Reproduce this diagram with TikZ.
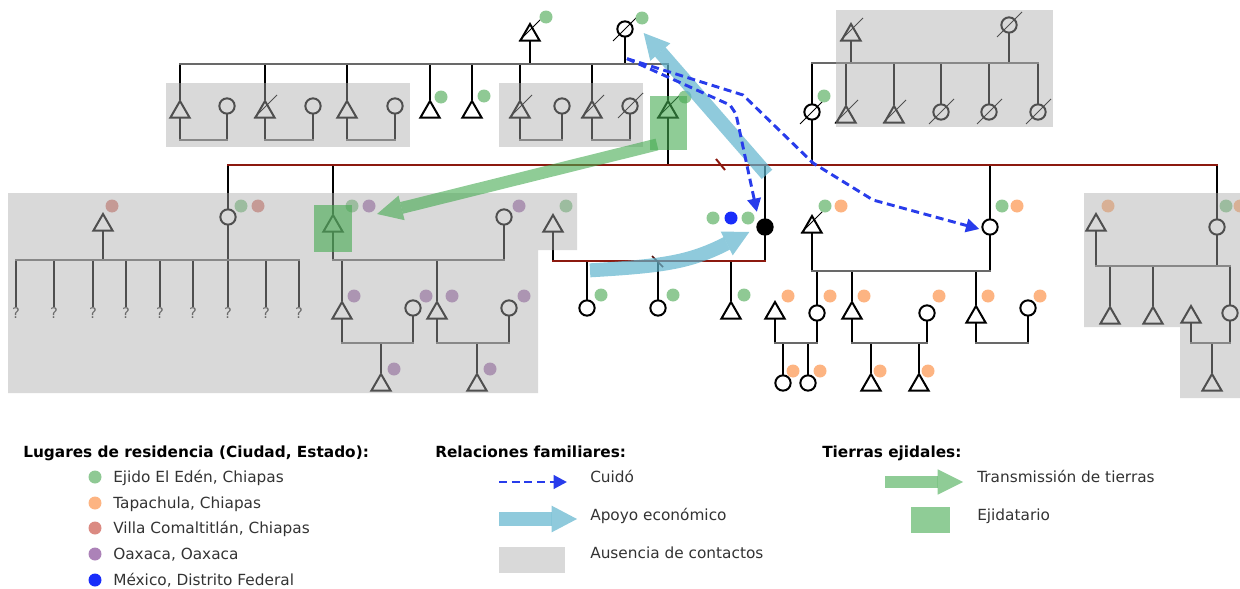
\documentclass[tikz,border=0pt]{standalone}
\usepackage{fontspec}
\setmainfont{DejaVu Sans}
\usetikzlibrary{shapes.geometric,arrows.meta,positioning,calc}

\definecolor{verde}{RGB}{143,201,148}
\definecolor{naranja}{RGB}{253,180,130}
\definecolor{rojo}{RGB}{219,138,130}
\definecolor{morado}{RGB}{172,130,184}
\definecolor{azul}{RGB}{25,45,250}
\definecolor{celeste}{RGB}{95,180,205}
\definecolor{pasto}{RGB}{68,170,80}
\definecolor{granate}{RGB}{140,25,15}
\definecolor{sombra}{RGB}{173,173,173}
\definecolor{grisbarra}{RGB}{105,105,105}
\definecolor{punteado}{RGB}{40,60,235}

\tikzset{
  persona/.style={draw, line width=1.5pt, inner sep=0pt},
  hombre/.style={persona, regular polygon, regular polygon sides=3, minimum size=16.5pt},
  mujer/.style={persona, circle, minimum size=11.5pt},
  rama/.style={line width=1.5pt, line cap=rect},
  union/.style={rama, draw=grisbarra},
  roja/.style={rama, draw=granate},
  muerto/.style={line width=0.7pt},
  sinlazo/.style={anchor=north, text=black!80, inner sep=1pt, font=\fontsize{11pt}{12pt}\selectfont},
  cuido/.style={draw=punteado, line width=2.2pt, dash pattern=on 6pt off 3.5pt, -{Triangle[length=10pt,width=10pt]}},
  apoyo/.style={draw=celeste, opacity=0.7, line width=10.5pt, -{Triangle[length=19pt,width=20pt,line width=0pt]}},
  tierra/.style={draw=pasto, opacity=0.6, line width=9pt, -{Triangle[length=19pt,width=19pt,line width=0pt]}},
  ausencia/.style={fill=sombra, fill opacity=0.46},
  ejido/.style={fill=pasto, fill opacity=0.6},
  titulo/.style={anchor=base west, inner sep=0pt, font=\fontsize{11.5pt}{13pt}\selectfont\bfseries},
  leyenda/.style={anchor=base west, inner sep=0pt, text=black!80, font=\fontsize{11.5pt}{13pt}\selectfont},
}

\begin{document}
\begin{tikzpicture}[x=0.75pt, y=-0.75pt]
  \useasboundingbox (0,0) rectangle (1240,589);

  % abuelos paternos
  \node[hombre] (abueloP) at (530,35) {};
  \node[mujer]  (abuelaP) at (625,29) {};
  % hijos de los abuelos paternos
  \node[hombre] (t1) at (180,112) {};
  \node[mujer]  (e1) at (227,106) {};
  \node[hombre] (t2) at (265,112) {};
  \node[mujer]  (e2) at (313,106) {};
  \node[hombre] (t3) at (347,112) {};
  \node[mujer]  (e3) at (395,106) {};
  \node[hombre] (t4) at (430,112) {};
  \node[hombre] (t5) at (472,112) {};
  \node[hombre] (t6) at (520,112) {};
  \node[mujer]  (e6) at (562,106) {};
  \node[hombre] (t7) at (592,112) {};
  \node[mujer]  (e7) at (630,106) {};
  \node[hombre] (padre) at (668,112) {};

  % abuelos maternos y sus hijos
  \node[hombre] (abueloM) at (851,35) {};
  \node[mujer]  (abuelaM) at (1009,25) {};
  \node[mujer]  (madre) at (812,112) {};
  \node[hombre] (tio1) at (846,117) {};
  \node[hombre] (tio2) at (894,117) {};
  \node[mujer]  (tia3) at (941,112) {};
  \node[mujer]  (tia4) at (989,112) {};
  \node[mujer]  (tia5) at (1038,112) {};

  % hermanos de ego y sus parejas
  \node[mujer]  (hermana1) at (228,217) {};
  \node[hombre] (cunado1) at (103,225) {};
  \node[hombre] (hermano2) at (333,226) {};
  \node[mujer]  (cunada2) at (504,217) {};
  \node[mujer, fill=black] (ego) at (765,227) {};
  \node[hombre] (esposo) at (553,226) {};
  \node[mujer]  (hermana4) at (990,227) {};
  \node[hombre] (cunado4) at (812,227) {};
  \node[mujer]  (hermana5) at (1217,227) {};
  \node[hombre] (cunado5) at (1096,225) {};

  % sobrinos e hijos
  \foreach \x [count=\i] in {16,54,93,126,160,193,228,266,299}
    \node[sinlazo] (q\i) at (\x,306) {?};
  \node[hombre] (sob1) at (342,313) {};
  \node[mujer]  (sob1e) at (413,308) {};
  \node[hombre] (sob2) at (437,313) {};
  \node[mujer]  (sob2e) at (509,308) {};
  \node[mujer]  (hija1) at (587,308) {};
  \node[mujer]  (hija2) at (658,308) {};
  \node[hombre] (hijo3) at (731,313) {};
  \node[hombre] (sob4ae) at (775,313) {};
  \node[mujer]  (sob4a) at (817,313) {};
  \node[hombre] (sob4b) at (852,313) {};
  \node[mujer]  (sob4be) at (927,313) {};
  \node[hombre] (sob4c) at (976,317) {};
  \node[mujer]  (sob4ce) at (1028,308) {};
  \node[hombre] (sob5a) at (1110,318) {};
  \node[hombre] (sob5b) at (1153,318) {};
  \node[hombre] (sob5ce) at (1191,317) {};
  \node[mujer]  (sob5c) at (1230,313) {};

  % nietos
  \node[hombre] (nieto1) at (381,385) {};
  \node[hombre] (nieto2) at (477,385) {};
  \node[mujer]  (nieta4a1) at (783,383) {};
  \node[mujer]  (nieta4a2) at (808,383) {};
  \node[hombre] (nieto4b1) at (871,385) {};
  \node[hombre] (nieto4b2) at (919,385) {};
  \node[hombre] (nieto5) at (1212,385) {};

  % lineas hijo -> barra
  \foreach \n/\y in {t1/64,t2/64,t3/64,t4/64,t5/64,t6/64,t7/64,padre/64,
      madre/63,tio1/63,tio2/63,tia3/63,tia4/63,tia5/63,
      hermana1/165,hermano2/165,ego/165,hermana4/165,hermana5/165,
      sob1/260,sob2/260,hija1/261,hija2/261,hijo3/261,
      sob4a/271,sob4b/271,sob4c/271,sob5a/266,sob5b/266,sob5c/266,
      nieto1/343,nieto2/343,nieta4a1/343,nieta4a2/343,nieto4b1/343,nieto4b2/343,nieto5/343}
    \draw[rama] (\n.north) -- (\n.north |- 0,\y);
  \foreach \i in {1,...,9}
    \draw[rama] (q\i.north) -- (q\i.north |- 0,260);

  % lineas padre -> barra
  \foreach \n/\y in {abueloP/64,abuelaP/64,abueloM/63,abuelaM/63,padre/165,madre/165,
      t1/140,e1/140,t2/140,e2/140,t3/140,e3/140,t6/140,e6/140,t7/140,e7/140,
      cunado1/260,hermana1/260,hermano2/260,cunada2/260,esposo/261,ego/261,
      cunado4/271,hermana4/271,cunado5/266,hermana5/266,
      sob1/343,sob1e/343,sob2/343,sob2e/343,sob4ae/343,sob4a/343,sob4b/343,sob4be/343,
      sob4c/343,sob4ce/343,sob5ce/343,sob5c/343}
    \draw[rama] (\n.south) -- (\n.south |- 0,\y);

  % barras
  \draw[union] (t1.north |- 0,64) -- (padre.north |- 0,64);
  \draw[union] (madre.north |- 0,63) -- (tia5.north |- 0,63);
  \draw[roja] (hermana1.north |- 0,165) -- (hermana5.north |- 0,165);
  \draw[union] (q1.north |- 0,260) -- (q9.north |- 0,260);
  \draw[union] (hermano2.south |- 0,260) -- (cunada2.south |- 0,260);
  \draw[roja] (esposo.south |- 0,261) -- (ego.south |- 0,261);
  \draw[union] (cunado4.south |- 0,271) -- (hermana4.south |- 0,271);
  \draw[union] (cunado5.south |- 0,266) -- (sob5c.north |- 0,266);
  \foreach \a/\b/\y in {t1/e1/140,t2/e2/140,t3/e3/140,t6/e6/140,t7/e7/140,
      sob1/sob1e/343,sob2/sob2e/343,sob4ae/sob4a/343,sob4b/sob4be/343,
      sob4c/sob4ce/343,sob5ce/sob5c/343}
    \draw[union] (\a.south |- 0,\y) -- (\b.south |- 0,\y);

  % separaciones
  \draw[granate, line width=1.5pt] (716,159) -- (725,170);
  \draw[granate!60!black, line width=1.3pt] (652,256) -- (663,267);

  % fallecidos
  \foreach \n in {abueloP,t2,t6,t7,padre,abueloM,tio1,tio2,cunado4}
    \draw[muerto] ($(\n)+(-11,6)$) -- ($(\n)+(12,-17)$);
  \foreach \n in {abuelaP,e7,abuelaM,madre,tia3,tia4,tia5}
    \draw[muerto] ($(\n)+(-12,12)$) -- ($(\n)+(13,-13)$);

  % lugares de residencia
  \foreach \c/\x/\y in {verde/546/17,verde/642/18,verde/441/97,verde/484/96,verde/685/97,
      verde/824/96,verde/241/206,verde/352/206,verde/566/206,verde/713/218,verde/748/218,
      verde/601/295,verde/673/295,verde/744/295,verde/825/206,verde/1002/206,verde/1226/206,
      rojo/258/206,rojo/112/206,
      morado/369/206,morado/519/206,morado/354/296,morado/426/296,morado/452/296,
      morado/524/296,morado/394/369,morado/490/369,
      azul/731/218,
      naranja/841/206,naranja/1017/206,naranja/1240/206,naranja/1108/206,naranja/788/296,
      naranja/830/296,naranja/864/296,naranja/939/296,naranja/988/296,naranja/1040/296,
      naranja/793/371,naranja/820/371,naranja/880/371,naranja/928/371}
    \fill[\c] (\x,\y) circle [radius=6.5];

  % ausencia de contactos
  \fill[ausencia] (166,83) rectangle (410,147);
  \fill[ausencia] (499,83) rectangle (643,147);
  \fill[ausencia] (836,10) rectangle (1053,127);
  \fill[ausencia] (8,193) -- (577,193) -- (577,250) -- (538,250) -- (538,393) -- (8,393) -- cycle;
  \fill[ausencia] (1084,193) -- (1240,193) -- (1240,398) -- (1180,398) -- (1180,327) -- (1084,327) -- cycle;

  % ejidatarios
  \fill[ejido] (650,96) rectangle (687,150);
  \fill[ejido] (314,205) rectangle (352,252);

  % relaciones
  \draw[tierra] ($(padre.south)+(-11,26)$) -- ($(hermano2)+(44,-12)$);
  \draw[apoyo] ($(ego.north)+(2,-44)$) -- ($(abuelaP.east)+(10,4)$);
  \draw[apoyo] ($(hija1.north)+(3,-29)$) .. controls (665,266) and (690,262) .. ($(ego.west)+(-7,5)$);
  \draw[cuido] ($(abuelaP.south)+(2,21)$) -- (730,105) -- (736,114) -- ($(ego.north west)+(-2,-9)$);
  \draw[cuido] ($(abuelaP.south)+(2,21)$) -- (743,95) -- (813,163) -- (873,200) -- ($(hermana4.west)+(-2,2)$);

  % leyenda: lugares
  \node[titulo] (tLugares) at (23,457) {Lugares de residencia (Ciudad, Estado):};
  \fill[verde] (95,477) circle [radius=6.5];
  \fill[naranja] (95,503) circle [radius=6.5];
  \fill[rojo] (95,528) circle [radius=6.5];
  \fill[morado] (95,554) circle [radius=6.5];
  \fill[azul] (95,580) circle [radius=6.5];
  \node[leyenda] (lVerde) at (113,482) {Ejido El Edén, Chiapas};
  \node[leyenda] (lNaranja) at (113,508) {Tapachula, Chiapas};
  \node[leyenda] (lRojo) at (113,533) {Villa Comaltitlán, Chiapas};
  \node[leyenda] (lMorado) at (113,559) {Oaxaca, Oaxaca};
  \node[leyenda] (lAzul) at (113,585) {México, Distrito Federal};

  % leyenda: relaciones
  \node[titulo] (tRelaciones) at (435,457) {Relaciones familiares:};
  \coordinate (c1) at (499,482);
  \coordinate (c2) at (567,482);
  \draw[cuido] (c1) -- (c2);
  \node[leyenda] (lCuido) at (590,482) {Cuidó};
  \coordinate (a1) at (499,519);
  \coordinate (a2) at (577,519);
  \draw[apoyo] (a1) -- (a2);
  \node[leyenda] (lApoyo) at (590,520) {Apoyo económico};
  \fill[ausencia] (499,547) rectangle (565,573);
  \node[leyenda] (lAusencia) at (590,558) {Ausencia de contactos};

  % leyenda: tierras
  \node[titulo] (tTierras) at (822,457) {Tierras ejidales:};
  \coordinate (v1) at (885,482);
  \coordinate (v2) at (963,482);
  \draw[tierra] (v1) -- (v2);
  \node[leyenda] (lTransm) at (977,482) {Transmissión de tierras};
  \fill[ejido] (911,507) rectangle (950,533);
  \node[leyenda] (lEjidatario) at (977,520) {Ejidatario};
\end{tikzpicture}
\end{document}
